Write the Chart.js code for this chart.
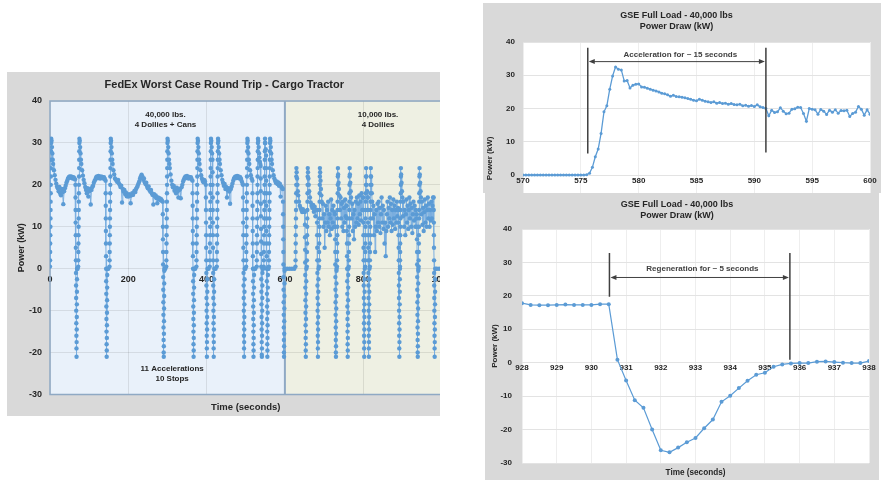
<!DOCTYPE html>
<html>
<head>
<meta charset="utf-8">
<script src="https://cdn.jsdelivr.net/npm/chart.js@4.4.1/dist/chart.umd.min.js"></script>
<style>
  body { margin: 0; width: 881px; height: 490px; position: relative; overflow: hidden; background: #fff; }
  .panel { position: absolute; overflow: hidden; background: #d9d9d9; }
  .panel > div { position: absolute; left: 0; top: 0; }
</style>
</head>
<body>
<div class="panel" style="left:7px;top:72px;width:433px;height:344px">
  <div style="width:472px;height:344px"><canvas id="tripChart"></canvas></div>
</div>
<div class="panel" style="left:483px;top:3px;width:398px;height:190px">
  <div style="width:398px;height:300px"><canvas id="accelChart"></canvas></div>
</div>
<div class="panel" style="left:485px;top:193px;width:394px;height:287px">
  <div style="width:396px;height:287px"><canvas id="regenChart"></canvas></div>
</div>
<script>
// [seconds, kW], 40,000 lbs leg (0-600 s)
const heavyRun = [
  [0,0.5],[0.2,2],[0.4,4],[0.6,6],[0.8,8],[1,10],[1.2,12],[1.4,14],[1.6,16],[1.8,18],[2,20],[2.2,22],[2.4,24],[2.6,26],[2.8,28],[3,30],[3.2,31],
  [4,30.5],[5,29],[6,27.5],[7,26],[8,25],[10,23.5],[12,22.3],[14,21.2],[16,20.3],
  [18,19.6],[20,19.2],[22,18.5],[24,19.5],[26,18],[28,17.5],[30,19],[32,18.2],[34,15.4],[36,18.5],[38,19.2],[40,19.8],[42,20.5],[44,21],[46,21.5],[48,21.8],[50,22],[52,21.7],[54,22],[56,21.8],[58,21.5],[60,21.8],[62,21.6],[64,21.3],
  [65,20],[65.2,17],[65.4,14],[65.6,11],[65.8,8],[66,5],[66.2,2],[66.4,-1],[66.6,-4],[66.8,-7],[67,-10],[67.2,-13],[67.4,-16],[67.6,-19],[67.8,-21],[68,-17.5],[68.2,-14.5],[68.4,-11.5],[68.6,-8.5],[68.8,-5.5],[69,-2.5],[69.2,0],
  [70.5,0],
  [72,0.5],[72.2,2],[72.4,4],[72.6,6],[72.8,8],[73,10],[73.2,12],[73.4,14],[73.6,16],[73.8,18],[74,20],[74.2,22],[74.4,24],[74.6,26],[74.8,28],[75,30],[75.2,31],
  [76,30.5],[77,29],[78,27.5],[79,26],[80,25],[82,23.5],[84,22.2],[86,21.2],[88,20.4],
  [90,19.5],[92,18.8],[94,18],[96,19.2],[98,17.2],[100,18.5],[102,19],[104,15.3],[106,18.8],[108,19.5],[110,19.8],[112,20.5],[114,21],[116,21.3],[118,21.8],[120,22],[122,21.6],[124,22.1],[126,21.8],[128,21.5],[130,22],[132,21.7],[134,21.9],[136,21.5],[138,21.8],[140,21.4],
  [142,21],[142.2,18],[142.4,15],[142.6,12],[142.8,9],[143,6],[143.2,3],[143.4,0],[143.6,-3],[143.8,-6],[144,-9],[144.2,-12],[144.4,-15],[144.6,-18],[144.8,-21],[145,-19.5],[145.2,-16.5],[145.4,-13.5],[145.6,-10.5],[145.8,-7.5],[146,-4.5],[146.2,-1.5],[146.4,0],
  [149,0],
  [152,0.5],[152.2,2],[152.4,4],[152.6,6],[152.8,8],[153,10],[153.2,12],[153.4,14],[153.6,16],[153.8,18],[154,20],[154.2,22],[154.4,24],[154.6,26],[154.8,28],[155,30],[155.2,31],
  [156,30.5],[157,29],[158,27.5],[159,26],[160,25],[162,23.5],[164,22.5],[166,21.5],
  [168,21.3],[170,21],[172,20.7],[174,21.2],[176,20.4],[178,20],[180,19.5],[182,19.8],[184,15.8],[186,19],[188,18.4],[190,18.8],[192,17.8],[194,18.2],[196,17.3],[198,17.6],[200,17.2],[202,17.8],[204,17.4],[206,15.6],[208,17.5],[210,18],[212,17.6],[214,18.2],[216,18.6],[218,18.3],[220,19],[222,19.4],[224,19.8],[226,20.3],[228,20.8],[230,21.5],[232,22],[234,22.4],[236,22],[238,21.2],[240,21.5],[242,20.6],[244,20.2],[246,20.5],[248,19.6],[250,19.2],[252,19.6],[254,18.8],[256,18.4],[258,18.8],[260,18],[262,17.6],[264,15.3],[266,17.8],[268,17.2],[270,17.5],[272,16.8],[274,15.6],[276,17],[278,16.6],[280,16.8],[282,16.3],[284,16.6],[286,16.2],
  [288,16],[288.2,13],[288.4,10],[288.6,7],[288.8,4],[289,1],[289.2,-2],[289.4,-5],[289.6,-8],[289.8,-11],[290,-14],[290.2,-17],[290.4,-20],[290.6,-21],[290.8,-18.5],[291,-15.5],[291.2,-12.5],[291.4,-9.5],[291.6,-6.5],[291.8,-3.5],[292,-0.5],[292.2,0],
  [294.5,0],
  [297,0.5],[297.2,2],[297.4,4],[297.6,6],[297.8,8],[298,10],[298.2,12],[298.4,14],[298.6,16],[298.8,18],[299,20],[299.2,22],[299.4,24],[299.6,26],[299.8,28],[300,30],[300.2,31],
  [301,30.5],[302,29],[303,27.5],[304,26],[305,25],[306,24],[308,22.5],[310,21],
  [312,20],[314,19.4],[316,19.8],[318,18.6],[320,19.2],[322,18],[324,19.3],[326,18.5],[328,17],[330,18.8],[332,19],[334,16.8],[336,19.4],[338,20],[340,20.8],[342,21.3],[344,21.7],[346,22],[348,21.6],[350,22.1],[352,21.8],[354,21.5],[356,21.9],[358,21.6],[360,21.8],[362,21.3],
  [364,21],[364.2,18],[364.4,15],[364.6,12],[364.8,9],[365,6],[365.2,3],[365.4,0],[365.6,-3],[365.8,-6],[366,-9],[366.2,-12],[366.4,-15],[366.6,-18],[366.8,-21],[367,-19.5],[367.2,-16.5],[367.4,-13.5],[367.6,-10.5],[367.8,-7.5],[368,-4.5],[368.2,-1.5],[368.4,0],
  [371,0],
  [374,0.5],[374.2,2],[374.4,4],[374.6,6],[374.8,8],[375,10],[375.2,12],[375.4,14],[375.6,16],[375.8,18],[376,20],[376.2,22],[376.4,24],[376.6,26],[376.8,28],[377,30],[377.2,31],
  [378,30.5],[379,29],[380,27.5],[381,26],[382,25],[384,23.5],[386,22.3],[388,21.5],[390,21],[392,20.6],[394,21.2],[396,20.8],
  [398,20],[398.2,17],[398.4,14],[398.6,11],[398.8,8],[399,5],[399.2,2],[399.4,-1],[399.6,-4],[399.8,-7],[400,-10],[400.2,-13],[400.4,-16],[400.6,-19],[400.8,-21],[401,-17.5],[401.2,-14.5],[401.4,-11.5],[401.6,-8.5],[401.8,-5.5],[402,-2.5],[402.2,0],
  [405,0],
  [408,0.5],[408.2,2],[408.4,4],[408.6,6],[408.8,8],[409,10],[409.2,12],[409.4,14],[409.6,16],[409.8,18],[410,20],[410.2,22],[410.4,24],[410.6,26],[410.8,28],[411,30],[411.2,31],
  [412,30.5],[413,29],[414,27.5],
  [415,26],[415.2,23],[415.4,20],[415.6,17],[415.8,14],[416,11],[416.2,8],[416.4,5],[416.6,2],[416.8,-1],[417,-4],[417.2,-7],[417.4,-10],[417.6,-13],[417.8,-16],[418,-19],[418.2,-21],[418.4,-17.5],[418.6,-14.5],[418.8,-11.5],[419,-8.5],[419.2,-5.5],[419.4,-2.5],[419.6,0],
  [423,0],
  [426,0.5],[426.2,2],[426.4,4],[426.6,6],[426.8,8],[427,10],[427.2,12],[427.4,14],[427.6,16],[427.8,18],[428,20],[428.2,22],[428.4,24],[428.6,26],[428.8,28],[429,30],[429.2,31],
  [430,30.5],[431,29],[432,27.5],[433,26],[434,25],[436,23.5],[438,22.3],[440,21.2],
  [442,20.5],[444,19.8],[446,20.2],[448,19],[450,19.5],[452,17],[454,18.8],[456,19.2],[458,18.4],[460,15.5],[462,19],[464,19.6],[466,20.3],[468,21],[470,21.5],[472,21.8],[474,22],[476,21.6],[478,22.1],[480,21.8],[482,22],[484,21.5],[486,21.8],[488,21.4],[490,20.8],[492,20.2],
  [493,20],[493.2,17],[493.4,14],[493.6,11],[493.8,8],[494,5],[494.2,2],[494.4,-1],[494.6,-4],[494.8,-7],[495,-10],[495.2,-13],[495.4,-16],[495.6,-19],[495.8,-21],[496,-17.5],[496.2,-14.5],[496.4,-11.5],[496.6,-8.5],[496.8,-5.5],[497,-2.5],[497.2,0],
  [499,0],
  [501,0.5],[501.2,2],[501.4,4],[501.6,6],[501.8,8],[502,10],[502.2,12],[502.4,14],[502.6,16],[502.8,18],[503,20],[503.2,22],[503.4,24],[503.6,26],[503.8,28],[504,30],[504.2,31],
  [505,30.5],[506,29],[507,27.5],[508,26],[509,25],[511,23.5],[513,22.3],[515,21.5],
  [517,21],[517.2,18],[517.4,15],[517.6,12],[517.8,9],[518,6],[518.2,3],[518.4,0],[518.6,-3],[518.8,-6],[519,-9],[519.2,-12],[519.4,-15],[519.6,-18],[519.8,-21],[520,-19.5],[520.2,-16.5],[520.4,-13.5],[520.6,-10.5],[520.8,-7.5],[521,-4.5],[521.2,-1.5],[521.4,0],
  [524.5,0],
  [528,0.5],[528.2,2],[528.4,4],[528.6,6],[528.8,8],[529,10],[529.2,12],[529.4,14],[529.6,16],[529.8,18],[530,20],[530.2,22],[530.4,24],[530.6,26],[530.8,28],[531,30],[531.2,31],
  [532,30.5],[533,29],[534,27.5],[535,26.5],[536,25.5],[537,25],
  [538,24.5],[538.2,21.5],[538.4,18.5],[538.6,15.5],[538.8,12.5],[539,9.5],[539.2,6.5],[539.4,3.5],[539.6,0.5],[539.8,-2.5],[540,-5.5],[540.2,-8.5],[540.4,-11.5],[540.6,-14.5],[540.8,-17.5],[541,-20.5],[541.2,-21],[541.4,-19],[541.6,-16],[541.8,-13],[542,-10],[542.2,-7],[542.4,-4],[542.6,-1],[542.8,0],
  [544.5,0],
  [546,0.5],[546.2,2],[546.4,4],[546.6,6],[546.8,8],[547,10],[547.2,12],[547.4,14],[547.6,16],[547.8,18],[548,20],[548.2,22],[548.4,24],[548.6,26],[548.8,28],[549,30],[549.2,31],
  [550,30],[551,28.5],
  [552,27],[552.2,24],[552.4,21],[552.6,18],[552.8,15],[553,12],[553.2,9],[553.4,6],[553.6,3],[553.8,0],[554,-3],[554.2,-6],[554.4,-9],[554.6,-12],[554.8,-15],[555,-18],[555.2,-21],[555.4,-19.5],[555.6,-16.5],[555.8,-13.5],[556,-10.5],[556.2,-7.5],[556.4,-4.5],[556.6,-1.5],[556.8,0],
  [558,0],
  [559,0.5],[559.2,2],[559.4,4],[559.6,6],[559.8,8],[560,10],[560.2,12],[560.4,14],[560.6,16],[560.8,18],[561,20],[561.2,22],[561.4,24],[561.6,26],[561.8,28],[562,30],[562.2,31],
  [563,30.5],[564,29],[565,27.5],[566,26],[567,25],[569,23.5],[571,22.3],[573,21.5],
  [575,21],[577,20.5],[579,20.8],[581,20.2],[583,20.6],[585,19.8],[587,20.3],[589,17.2],[591,19.6],[593,19.2],
  [595,19],[595.2,16],[595.4,13],[595.6,10],[595.8,7],[596,4],[596.2,1],[596.4,-2],[596.6,-5],[596.8,-8],[597,-11],[597.2,-14],[597.4,-17],[597.6,-20],[597.8,-21],[598,-18.5],[598.2,-15.5],[598.4,-12.5],[598.6,-9.5],[598.8,-6.5],[599,-3.5],[599.2,-0.5],[599.4,0]
];

// [seconds, kW] 10,000 lbs leg (600-1000 s)
const lightRun = [
  [600,0],[606,0],[612,0],[618,0],[624,0],
  [627,0.5],[627.2,2],[627.4,4],[627.6,6],[627.8,8],[628,10],[628.2,12],[628.4,14],[628.6,16],[628.8,18],[629,20],[629.2,22],[629.4,24],
  [630,23],[631,21.5],[632,20],[633,18.5],[634,17.5],[636,16],[638,15],[640,14.5],[642,14],[644,13.5],[646,14.2],[648,13.6],[650,13.8],
  [651,13.5],[651.2,10.5],[651.4,7.5],[651.6,4.5],[651.8,1.5],[652,-1.5],[652.2,-4.5],[652.4,-7.5],[652.6,-10.5],[652.8,-13.5],[653,-16.5],[653.2,-19.5],[653.4,-21],[653.6,-18],[653.8,-15],[654,-12],[654.2,-9],[654.4,-6],[654.6,-3],[654.8,0],
  [656,0.5],[656.2,2],[656.4,4],[656.6,6],[656.8,8],[657,10],[657.2,12],[657.4,14],[657.6,16],[657.8,18],[658,20],[658.2,22],[658.4,24],
  [659,23],[660,21.5],[661,20],[662,18.5],[664,17],[666,15.8],[668,15],[670,14.5],[672,15.2],[674,13.6],[676,14.8],[678,12.5],[680,14],
  [682,14],[682.2,11],[682.4,8],[682.6,5],[682.8,2],[683,-1],[683.2,-4],[683.4,-7],[683.6,-10],[683.8,-13],[684,-16],[684.2,-19],[684.4,-21],[684.6,-17.5],[684.8,-14.5],[685,-11.5],[685.2,-8.5],[685.4,-5.5],[685.6,-2.5],[685.8,0],
  [687,0.5],[687.2,2],[687.4,4],[687.6,6],[687.8,8],[688,10],[688.2,12],[688.4,14],[688.6,16],[688.8,18],[689,20],[689.2,22],[689.4,24],
  [690,23],[691,21],[692,19],[693,17.5],[694,16],[695.5,12],[697,15.5],[698.5,10],[700,13],[701.5,5],[703,11],[704.5,15],[706,9],[707.5,14],[709,11],[710.5,16],[712,10],[713.5,13],[715,8],[716.5,12],[718,16.5],[719.5,9.5],[721,14],[722.5,11],[724,15],[725.5,10],[727,13.5],
  [728,13],[728.2,10],[728.4,7],[728.6,4],[728.8,1],[729,-2],[729.2,-5],[729.4,-8],[729.6,-11],[729.8,-14],[730,-17],[730.2,-20],[730.4,-21],[730.6,-18.5],[730.8,-15.5],[731,-12.5],[731.2,-9.5],[731.4,-6.5],[731.6,-3.5],[731.8,-0.5],[732,0],
  [733,0.5],[733.2,2],[733.4,4],[733.6,6],[733.8,8],[734,10],[734.2,12],[734.4,14],[734.6,16],[734.8,18],[735,20],[735.2,22],[735.4,24],
  [736,22.5],[737,20.5],[738,19],[739,17.5],[740.5,14],[742,17],[743.5,12],[745,15.5],[746.5,10],[748,16],[749.5,9],[751,14.5],[752.5,11],[754,16.5],[755.5,12.5],[757,15],
  [758,15],[758.2,12],[758.4,9],[758.6,6],[758.8,3],[759,0],[759.2,-3],[759.4,-6],[759.6,-9],[759.8,-12],[760,-15],[760.2,-18],[760.4,-21],[760.6,-19.5],[760.8,-16.5],[761,-13.5],[761.2,-10.5],[761.4,-7.5],[761.6,-4.5],[761.8,-1.5],[762,0],
  [763,0.5],[763.2,2],[763.4,4],[763.6,6],[763.8,8],[764,10],[764.2,12],[764.4,14],[764.6,16],[764.8,18],[765,20],[765.2,22],[765.4,24],
  [766,22.5],[767,20.5],[768,18.5],[769,17],[770.5,12],[772,15.5],[773.5,9],[775,13],[776.5,7],[778,14],[779.5,10],[781,16],[782.5,11],[784,17],[785.5,12],[787,15.5],[788.5,10.5],[790,17.5],[791.5,13],[793,16],[794.5,11.5],[796,18],[797.5,14],[799,17],
  [800,17],[800.2,14],[800.4,11],[800.6,8],[800.8,5],[801,2],[801.2,-1],[801.4,-4],[801.6,-7],[801.8,-10],[802,-13],[802.2,-16],[802.4,-19],[802.6,-21],[802.8,-17.5],[803,-14.5],[803.2,-11.5],[803.4,-8.5],[803.6,-5.5],[803.8,-2.5],[804,0],
  [805,0.5],[805.2,2],[805.4,4],[805.6,6],[805.8,8],[806,10],[806.2,12],[806.4,14],[806.6,16],[806.8,18],[807,20],[807.2,22],[807.4,24],
  [808,22],[809,20],[810,18.5],[811,17],
  [812,17],[812.2,14],[812.4,11],[812.6,8],[812.8,5],[813,2],[813.2,-1],[813.4,-4],[813.6,-7],[813.8,-10],[814,-13],[814.2,-16],[814.4,-19],[814.6,-21],[814.8,-17.5],[815,-14.5],[815.2,-11.5],[815.4,-8.5],[815.6,-5.5],[815.8,-2.5],[816,0],
  [817,0.5],[817.2,2],[817.4,4],[817.6,6],[817.8,8],[818,10],[818.2,12],[818.4,14],[818.6,16],[818.8,18],[819,20],[819.2,22],[819.4,24],
  [820,22],[821,20],[822,18],[823,16],[824.5,12],[826,15],[827.5,8],[829,13],[830.5,4],[832,10],[833.5,14],[835,9],[836.5,15.5],[838,11],[839.5,16],[841,10],[842.5,14.5],[844,8.5],[845.5,13],[847,17],[848.5,11],[850,15],[851.5,9.5],[853,14],[854.5,6],[856,11],[857.5,3],[859,9],[860.5,13],[862,16],[863.5,10],[865,14.5],[866.5,12],[868,17],[869.5,11],[871,15.5],[872.5,9],[874,14],[875.5,10.5],[877,16.5],[878.5,12],[880,15],[881.5,9.5],[883,14],[884.5,11],[886,16],[887.5,12.5],[889,14.5],
  [890,14],[890.2,11],[890.4,8],[890.6,5],[890.8,2],[891,-1],[891.2,-4],[891.4,-7],[891.6,-10],[891.8,-13],[892,-16],[892.2,-19],[892.4,-21],[892.6,-17.5],[892.8,-14.5],[893,-11.5],[893.2,-8.5],[893.4,-5.5],[893.6,-2.5],[893.8,0],
  [894,0.5],[894.2,2],[894.4,4],[894.6,6],[894.8,8],[895,10],[895.2,12],[895.4,14],[895.6,16],[895.8,18],[896,20],[896.2,22],[896.4,24],
  [897,22.5],[898,20.5],[899,18.5],[900,17],[901.5,12.5],[903,16],[904.5,10],[906,14],[907.5,8],[909,13],[910.5,16.5],[912,11],[913.5,15],[915,9.5],[916.5,14],[918,17],[919.5,12],[921,15.5],[922.5,10],[924,14.5],[925.5,8.5],[927,13],[928.5,16],[930,11.5],[931.5,15],[933,10],[934.5,14],[936,12],
  [937,13],[937.2,10],[937.4,7],[937.6,4],[937.8,1],[938,-2],[938.2,-5],[938.4,-8],[938.6,-11],[938.8,-14],[939,-17],[939.2,-20],[939.4,-21],[939.6,-18.5],[939.8,-15.5],[940,-12.5],[940.2,-9.5],[940.4,-6.5],[940.6,-3.5],[940.8,-0.5],[941,0],
  [941.5,0.5],[941.7,2],[941.9,4],[942.1,6],[942.3,8],[942.5,10],[942.7,12],[942.9,14],[943.1,16],[943.3,18],[943.5,20],[943.7,22],[943.9,24],
  [944.5,22.5],[945.5,20.5],[946.5,18.5],[947.5,17],[948.5,13],[950,16],[951.5,10.5],[953,14.5],[954.5,9],[956,13.5],[957.5,16.5],[959,11],[960.5,15],[962,10],[963.5,14],[965,17],[966.5,12],[968,15.5],[969.5,10],[971,14],[972.5,11.5],[974,16],[975.5,12],[977,15],[978.5,17],
  [980,17],[980.2,14],[980.4,11],[980.6,8],[980.8,5],[981,2],[981.2,-1],[981.4,-4],[981.6,-7],[981.8,-10],[982,-13],[982.2,-16],[982.4,-19],[982.6,-21],[982.8,-17.5],[983,-14.5],[983.2,-11.5],[983.4,-8.5],[983.6,-5.5],[983.8,-2.5],[984,0],
  [988,0],[994,0],[1000,0]
];

// zoom on the 575 s acceleration
const accelTime = [570,570.25,570.5,570.75,571,571.25,571.5,571.75,572,572.25,572.5,572.75,573,573.25,573.5,573.75,574,574.25,574.5,574.75,575,575.25,575.5,575.75,576,576.25,576.5,576.75,577,577.25,577.5,577.75,578,578.25,578.5,578.75,579,579.25,579.5,579.75,580,580.25,580.5,580.75,581,581.25,581.5,581.75,582,582.25,582.5,582.75,583,583.25,583.5,583.75,584,584.25,584.5,584.75,585,585.25,585.5,585.75,586,586.25,586.5,586.75,587,587.25,587.5,587.75,588,588.25,588.5,588.75,589,589.25,589.5,589.75,590,590.25,590.5,590.75,591,591.25,591.5,591.75,592,592.25,592.5,592.75,593,593.25,593.5,593.75,594,594.25,594.5,594.75,595,595.25,595.5,595.75,596,596.25,596.5,596.75,597,597.25,597.5,597.75,598,598.25,598.5,598.75,599,599.25,599.5,599.75,600];
const accelPower = [0,0,0,0,0,0,0,0,0,0,0,0,0,0,0,0,0,0,0,0,0,0,0.1,
  0.5,2.3,5.5,7.8,12.5,19,20.8,25.8,29.8,32.5,31.8,31.6,28.3,28.4,26.2,27,27.3,27.4,26.5,26.4,26.1,25.8,25.5,25.3,25,24.6,24.4,24.1,23.7,24,23.6,23.5,23.4,23.2,23,22.8,22.5,22.3,
  22.8,22.5,22.2,22,21.8,22,21.6,21.8,21.5,21.6,
  21.3,21.5,21.2,21.1,21.3,20.8,21,20.7,20.9,20.6,
  21.1,20.5,20.3,20,17.8,19.5,18.8,19,20.2,19.2,
  18.4,18.6,19.8,19.9,20.4,20.3,18.5,16.2,20,19.8,
  19.6,18.3,19.7,19.2,18.2,19.5,18.9,19.6,18.6,19.4,
  19.3,19.5,17.6,18.5,18.9,20.6,19.8,18,19.6,18.3];

// zoom on the 930 s regeneration
const regenTime = [928,928.25,928.5,928.75,929,929.25,929.5,929.75,930,930.25,930.5,930.75,931,931.25,931.5,931.75,932,932.25,932.5,932.75,933,933.25,933.5,933.75,934,934.25,934.5,934.75,935,935.25,935.5,935.75,936,936.25,936.5,936.75,937,937.25,937.5,937.75,938];
const regenPower = [17.8,17.3,17.2,17.2,17.3,17.4,17.3,17.3,17.3,17.5,17.5,
  0.9,-5.3,-11.2,-13.5,-20,-26.2,-26.8,-25.4,-23.8,-22.5,
  -19.6,-17,-11.7,-9.9,-7.6,-5.4,-3.6,-3,-1.2,-0.5,
  -0.2,-0.1,-0.1,0.3,0.4,0.2,0,-0.1,-0.1,0.5];

Chart.defaults.font.family = '"Liberation Sans", Arial, sans-serif';
Chart.defaults.color = '#262626';

const BLUE = '#5b9bd5';

// plot-area fill, optional zones, frame and divider
const plotBackdrop = {
  id: 'plotBackdrop',
  beforeDraw(chart, args, opts) {
    const { ctx, chartArea: a, scales: { x } } = chart;
    const zones = opts.zones || [{ from: x.min, to: x.max, color: opts.color }];
    ctx.save();
    zones.forEach(z => {
      const x1 = Math.max(a.left, x.getPixelForValue(z.from));
      const x2 = Math.min(a.right, x.getPixelForValue(z.to));
      ctx.fillStyle = z.color;
      ctx.fillRect(x1, a.top, x2 - x1, a.bottom - a.top);
    });
    ctx.restore();
  },
  beforeDatasetsDraw(chart, args, opts) {
    if (!opts.frame) return;
    const { ctx, chartArea: a, scales: { x } } = chart;
    ctx.save();
    ctx.strokeStyle = opts.frame;
    ctx.lineWidth = 1.5;
    ctx.strokeRect(a.left, a.top, a.right - a.left, a.bottom - a.top);
    ctx.lineWidth = 2;
    (opts.dividers || []).forEach(v => {
      const px = x.getPixelForValue(v);
      ctx.beginPath();
      ctx.moveTo(px, a.top);
      ctx.lineTo(px, a.bottom);
      ctx.stroke();
    });
    ctx.restore();
  }
};

// free text notes placed in data units
const notes = {
  id: 'notes',
  afterDraw(chart, args, opts) {
    const { ctx, scales: { x, y } } = chart;
    ctx.save();
    ctx.fillStyle = '#262626';
    ctx.font = 'bold 8px "Liberation Sans", Arial, sans-serif';
    ctx.textAlign = 'center';
    ctx.textBaseline = 'middle';
    (opts.items || []).forEach(n => {
      n.lines.forEach((t, i) => ctx.fillText(t, x.getPixelForValue(n.x), y.getPixelForValue(n.y) + i * 10));
    });
    ctx.restore();
  }
};

// bracket with double arrow marking a time span
const spanMarker = {
  id: 'spanMarker',
  afterDatasetsDraw(chart, args, o) {
    const { ctx, scales: { x, y } } = chart;
    const x1 = x.getPixelForValue(o.from), x2 = x.getPixelForValue(o.to);
    const ay = y.getPixelForValue(o.arrowY);
    ctx.save();
    ctx.strokeStyle = '#404040';
    ctx.fillStyle = '#404040';
    ctx.lineWidth = 1.5;
    ctx.beginPath();
    ctx.moveTo(x1, y.getPixelForValue(o.top));
    ctx.lineTo(x1, y.getPixelForValue(o.fromBottom));
    ctx.moveTo(x2, y.getPixelForValue(o.top));
    ctx.lineTo(x2, y.getPixelForValue(o.toBottom));
    ctx.stroke();
    ctx.lineWidth = 1;
    ctx.beginPath();
    ctx.moveTo(x1 + 4, ay);
    ctx.lineTo(x2 - 4, ay);
    ctx.stroke();
    ctx.beginPath();
    ctx.moveTo(x1 + 1, ay); ctx.lineTo(x1 + 7, ay - 2.5); ctx.lineTo(x1 + 7, ay + 2.5); ctx.closePath();
    ctx.moveTo(x2 - 1, ay); ctx.lineTo(x2 - 7, ay - 2.5); ctx.lineTo(x2 - 7, ay + 2.5); ctx.closePath();
    ctx.fill();
    ctx.font = 'bold 8px "Liberation Sans", Arial, sans-serif';
    ctx.textAlign = 'center';
    ctx.textBaseline = 'middle';
    ctx.fillText(o.label, x.getPixelForValue(o.labelX), y.getPixelForValue(o.labelY));
    ctx.restore();
  }
};

const toPoints = (xs, ys) => xs.map((t, i) => ({ x: t, y: ys[i] }));

// 1. Round trip
new Chart(document.getElementById('tripChart'), {
  type: 'line',
  data: {
    datasets: [{
      data: heavyRun.concat(lightRun).map(p => ({ x: p[0], y: p[1] })),
      borderColor: '#7aaedf',
      borderWidth: 1,
      pointRadius: 2.2,
      pointBorderWidth: 0,
      pointBackgroundColor: BLUE,
      tension: 0
    }]
  },
  options: {
    animation: false,
    responsive: true,
    maintainAspectRatio: false,
    layout: { padding: { right: 37.5 } },
    plugins: {
      legend: { display: false },
      tooltip: { enabled: false },
      title: {
        display: true,
        text: 'FedEx Worst Case Round Trip - Cargo Tractor',
        color: '#262626',
        font: { size: 11, weight: 'bold', lineHeight: 1.2 },
        padding: { top: 6.4, bottom: 9.4 }
      },
      plotBackdrop: {
        zones: [{ from: 0, to: 600, color: '#e9f1fa' }, { from: 600, to: 1000, color: '#eef0e3' }],
        frame: '#8fa9c4',
        dividers: [600]
      },
      notes: {
        items: [
          { x: 295, y: 36.7, lines: ['40,000 lbs.', '4 Dollies + Cans'] },
          { x: 838, y: 36.7, lines: ['10,000 lbs.', '4 Dollies'] },
          { x: 312, y: -23.8, lines: ['11 Accelerations', '10 Stops'] }
        ]
      }
    },
    scales: {
      x: {
        type: 'linear', position: { y: 0 }, min: 0, max: 1000,
        ticks: { stepSize: 200, padding: 5, autoSkip: false, maxRotation: 0, font: { size: 9, weight: 'bold' }, callback: v => v },
        grid: { color: 'rgba(0,0,0,0.09)', drawTicks: false },
        border: { display: false }
      },
      xTitle: {
        type: 'linear', position: 'bottom', min: 0, max: 1000,
        ticks: { display: false },
        grid: { display: false, drawTicks: false },
        border: { display: false },
        title: { display: true, text: 'Time (seconds)', font: { size: 9.5, weight: 'bold' }, padding: { top: 0, bottom: 3.3 } },
        afterFit: s => { s.height = 21.5; }
      },
      y: {
        min: -30, max: 40,
        ticks: { stepSize: 10, padding: 8, font: { size: 9, weight: 'bold' } },
        grid: { color: 'rgba(0,0,0,0.09)', drawTicks: false },
        border: { display: false },
        title: { display: true, text: 'Power (kW)', font: { size: 9, weight: 'bold' }, padding: { top: 9.6, bottom: 0 } },
        afterFit: s => { s.width = 43; }
      }
    }
  },
  plugins: [plotBackdrop, notes]
});

// 2. Acceleration detail
new Chart(document.getElementById('accelChart'), {
  type: 'line',
  data: {
    datasets: [{
      data: toPoints(accelTime, accelPower),
      borderColor: BLUE,
      borderWidth: 1.3,
      pointRadius: 1.5,
      pointBorderWidth: 0,
      pointBackgroundColor: BLUE
    }]
  },
  options: {
    animation: false,
    responsive: true,
    maintainAspectRatio: false,
    layout: { padding: { right: 11, bottom: 28.25 } },
    plugins: {
      legend: { display: false },
      tooltip: { enabled: false },
      title: {
        display: true,
        text: ['GSE Full Load - 40,000 lbs', 'Power Draw (kW)'],
        color: '#262626',
        font: { size: 9, weight: 'bold', lineHeight: 1.15 },
        padding: { top: 7.8, bottom: 10.5 }
      },
      plotBackdrop: { color: '#ffffff' },
      spanMarker: {
        from: 575.6, to: 591, top: 38.3, fromBottom: 6.5, toBottom: 6.8,
        arrowY: 34.1, labelX: 583.6, labelY: 36.3, label: 'Acceleration for ~ 15 seconds'
      }
    },
    scales: {
      x: {
        type: 'linear', position: { y: 0 }, min: 570, max: 600,
        ticks: { stepSize: 5, padding: 1, maxRotation: 0, font: { size: 8, weight: 'bold' }, callback: v => v },
        grid: { color: '#eeeeee', drawTicks: false },
        border: { display: false }
      },
      y: {
        min: -30, max: 40,
        ticks: { stepSize: 10, padding: 8, font: { size: 8, weight: 'bold' } },
        grid: { color: '#e3e3e3', drawTicks: false },
        border: { display: false },
        title: { display: true, text: 'Power (kW)', font: { size: 8, weight: 'bold' }, padding: { top: 2.2, bottom: 0 } },
        afterFit: s => { s.width = 40; }
      }
    }
  },
  plugins: [plotBackdrop, spanMarker]
});

// 3. Regeneration detail
new Chart(document.getElementById('regenChart'), {
  type: 'line',
  data: {
    datasets: [{
      data: toPoints(regenTime, regenPower),
      borderColor: BLUE,
      borderWidth: 1.2,
      pointRadius: 2,
      pointBorderWidth: 0,
      pointBackgroundColor: BLUE
    }]
  },
  options: {
    animation: false,
    responsive: true,
    maintainAspectRatio: false,
    layout: { padding: { right: 12 } },
    plugins: {
      legend: { display: false },
      tooltip: { enabled: false },
      title: {
        display: true,
        text: ['GSE Full Load - 40,000 lbs', 'Power Draw (kW)'],
        color: '#262626',
        font: { size: 9, weight: 'bold', lineHeight: 1.15 },
        padding: { top: 6.8, bottom: 8.5 }
      },
      plotBackdrop: { color: '#ffffff' },
      spanMarker: {
        from: 930.52, to: 935.72, top: 32.8, fromBottom: 19.7, toBottom: 0.9,
        arrowY: 25.5, labelX: 933.2, labelY: 28.1, label: 'Regeneration for ~ 5 seconds'
      }
    },
    scales: {
      x: {
        type: 'linear', position: { y: 0 }, min: 928, max: 938,
        ticks: { stepSize: 1, padding: 0, maxRotation: 0, font: { size: 8, weight: 'bold' }, callback: v => v },
        grid: { color: '#eeeeee', drawTicks: false },
        border: { display: false }
      },
      xTitle: {
        type: 'linear', position: 'bottom', min: 928, max: 938,
        ticks: { display: false },
        grid: { display: false, drawTicks: false },
        border: { display: false },
        title: { display: true, text: 'Time (seconds)', font: { size: 8.2, weight: 'bold' }, padding: { top: 0, bottom: 2 } },
        afterFit: s => { s.height = 17; }
      },
      y: {
        min: -30, max: 40,
        ticks: { stepSize: 10, padding: 10, font: { size: 8, weight: 'bold' } },
        grid: { color: '#e3e3e3', drawTicks: false },
        border: { display: false },
        title: { display: true, text: 'Power (kW)', font: { size: 8, weight: 'bold' }, padding: { top: 5.2, bottom: 0 } },
        afterFit: s => { s.width = 37; }
      }
    }
  },
  plugins: [plotBackdrop, spanMarker]
});
</script>
</body>
</html>
